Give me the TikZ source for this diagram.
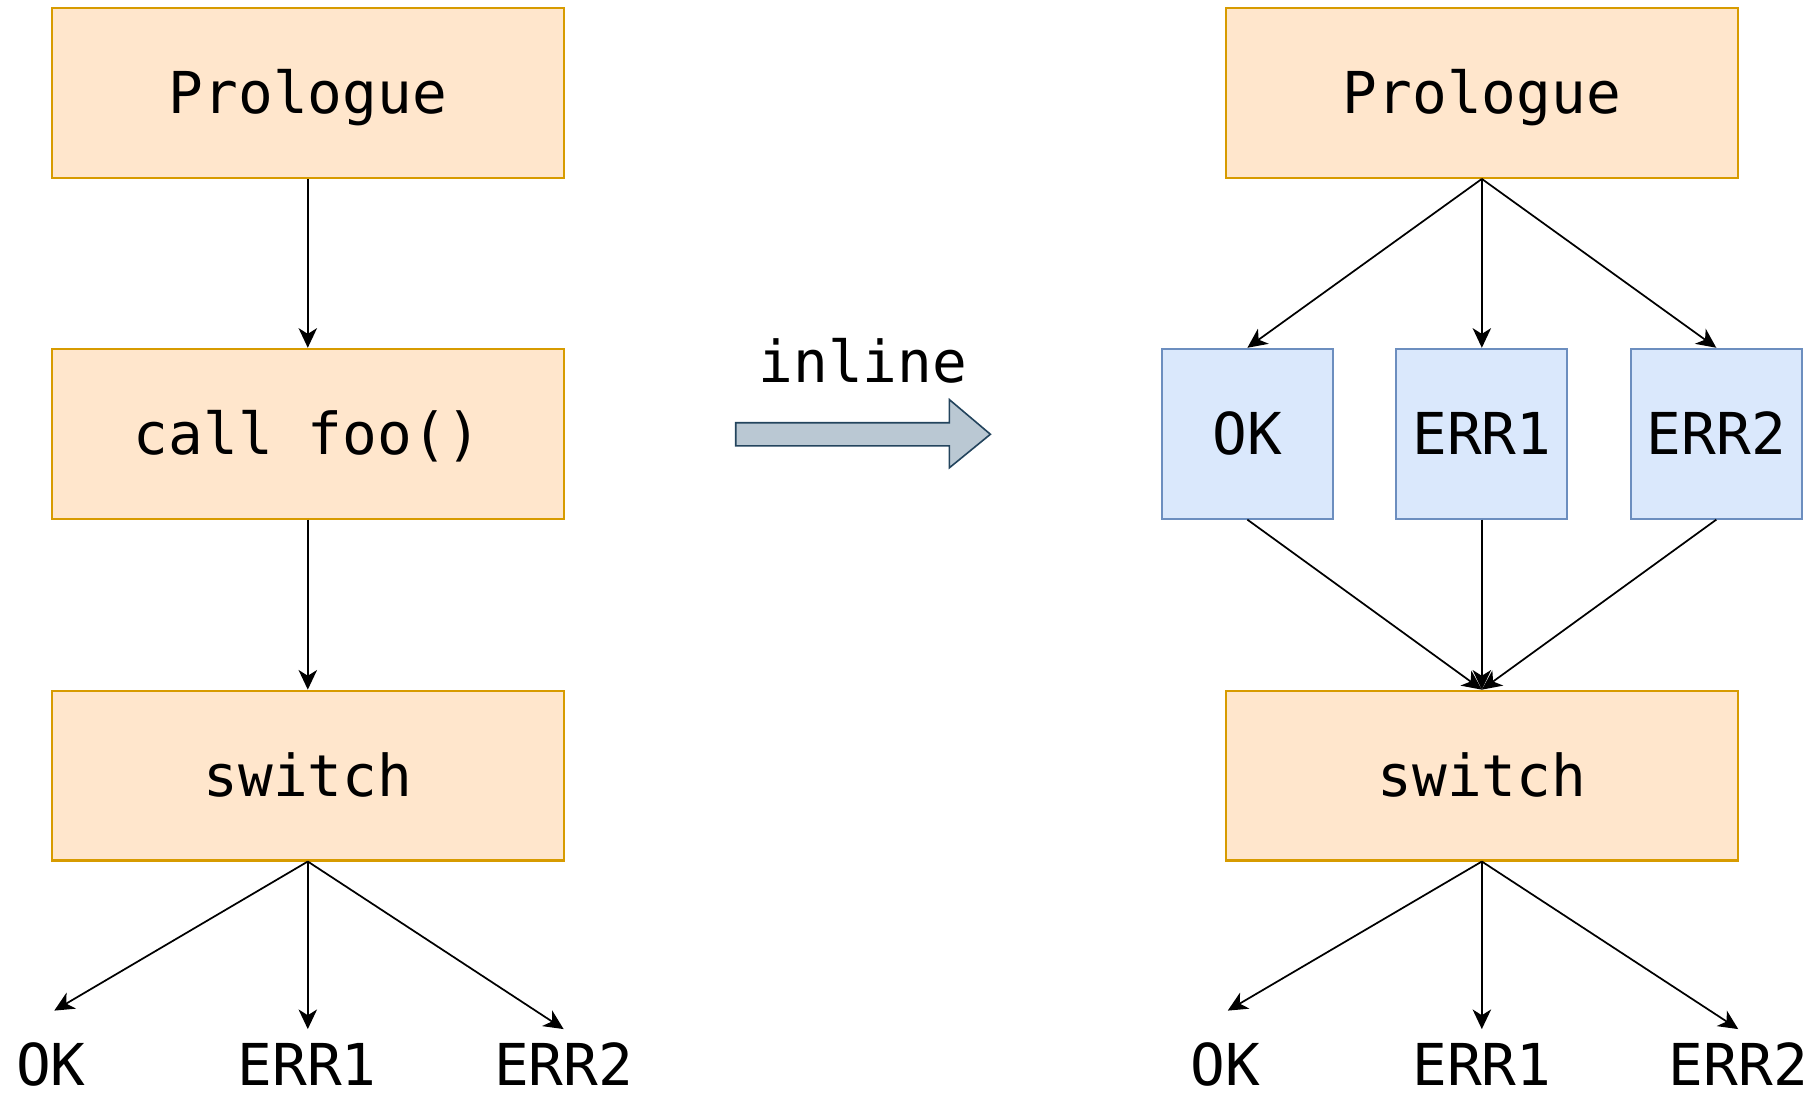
\documentclass[tikz,border=0pt]{standalone}
\usepackage{fontspec}
\newfontfamily\codefont{DejaVu Sans Mono}
\usetikzlibrary{arrows.meta}
\definecolor{orangefill}{HTML}{FFE6CC}
\definecolor{orangeline}{HTML}{D79B00}
\definecolor{bluefill}{HTML}{DAE8FC}
\definecolor{blueline}{HTML}{6C8EBF}
\definecolor{bigarrowfill}{HTML}{BAC8D3}
\definecolor{bigarrowline}{HTML}{23445D}
\newcommand{\codetext}{\codefont\fontsize{50}{58}\selectfont}
\tikzset{
  codelabel/.style={font=\codetext, inner sep=0pt, text height=36pt, text depth=0pt},
  orangebox/.style={codelabel, draw=orangeline, fill=orangefill, line width=1.8pt,
    minimum width=443pt, minimum height=147pt},
  bluebox/.style={codelabel, draw=blueline, fill=bluefill, line width=1.8pt,
    minimum width=148pt, minimum height=147pt},
  flow/.style={-{Stealth[length=17pt,width=16pt,inset=5pt]}, line width=1.5pt, black}
}
\begin{document}
\begin{tikzpicture}[x=1pt, y=-1pt]
  \useasboundingbox (0,0) rectangle (1568,946);

  % ---- before inlining ----
  \node[orangebox] (lpro) at (266.5,80.5)  {Prologue};
  \node[orangebox] (lcall) at (266.5,375.5) {call foo()};
  \node[orangebox] (lsw)  at (266.5,671.5) {switch};
  \node[codelabel] (lok)   at (44,922)  {OK};
  \node[codelabel] (lerr1) at (266,922) {ERR1};
  \node[codelabel] (lerr2) at (488,922) {ERR2};
  \coordinate (lokTip)   at (47,875);
  \coordinate (lerr1Tip) at (266.5,891);
  \coordinate (lerr2Tip) at (488,891);

  \draw[flow] (lpro.south) -- (lcall.north);
  \draw[flow] (lcall.south) -- (lsw.north);
  \draw[flow] (lsw.south) -- (lokTip);
  \draw[flow] (lsw.south) -- (lerr1Tip);
  \draw[flow] (lsw.south) -- (lerr2Tip);

  % ---- transformation arrow ----
  \node[codelabel] (inl) at (747,313) {inline};
  \draw[line width=1.4pt, draw=bigarrowline, fill=bigarrowfill, line join=miter]
    (637,366) -- (822,366) -- (822,346) -- (857.5,376) -- (822,405) -- (822,386)
    -- (637,386) -- cycle;

  % ---- after inlining ----
  \node[orangebox] (rpro) at (1283,80.5)  {Prologue};
  \node[bluebox]   (rok)   at (1080,375.5) {OK};
  \node[bluebox]   (rerr1) at (1283,375.5) {ERR1};
  \node[bluebox]   (rerr2) at (1486,375.5) {ERR2};
  \node[orangebox] (rsw)  at (1283,671.5) {switch};
  \node[codelabel] (rokl)   at (1061,922) {OK};
  \node[codelabel] (rerr1l) at (1283,922) {ERR1};
  \node[codelabel] (rerr2l) at (1505,922) {ERR2};
  \coordinate (rokTip)   at (1063,875);
  \coordinate (rerr1Tip) at (1283,891);
  \coordinate (rerr2Tip) at (1505,891);

  \draw[flow] (rpro.south) -- (rok.north);
  \draw[flow] (rpro.south) -- (rerr1.north);
  \draw[flow] (rpro.south) -- (rerr2.north);
  \draw[flow] (rok.south) -- (rsw.north);
  \draw[flow] (rerr1.south) -- (rsw.north);
  \draw[flow] (rerr2.south) -- (rsw.north);
  \draw[flow] (rsw.south) -- (rokTip);
  \draw[flow] (rsw.south) -- (rerr1Tip);
  \draw[flow] (rsw.south) -- (rerr2Tip);
\end{tikzpicture}
\end{document}
